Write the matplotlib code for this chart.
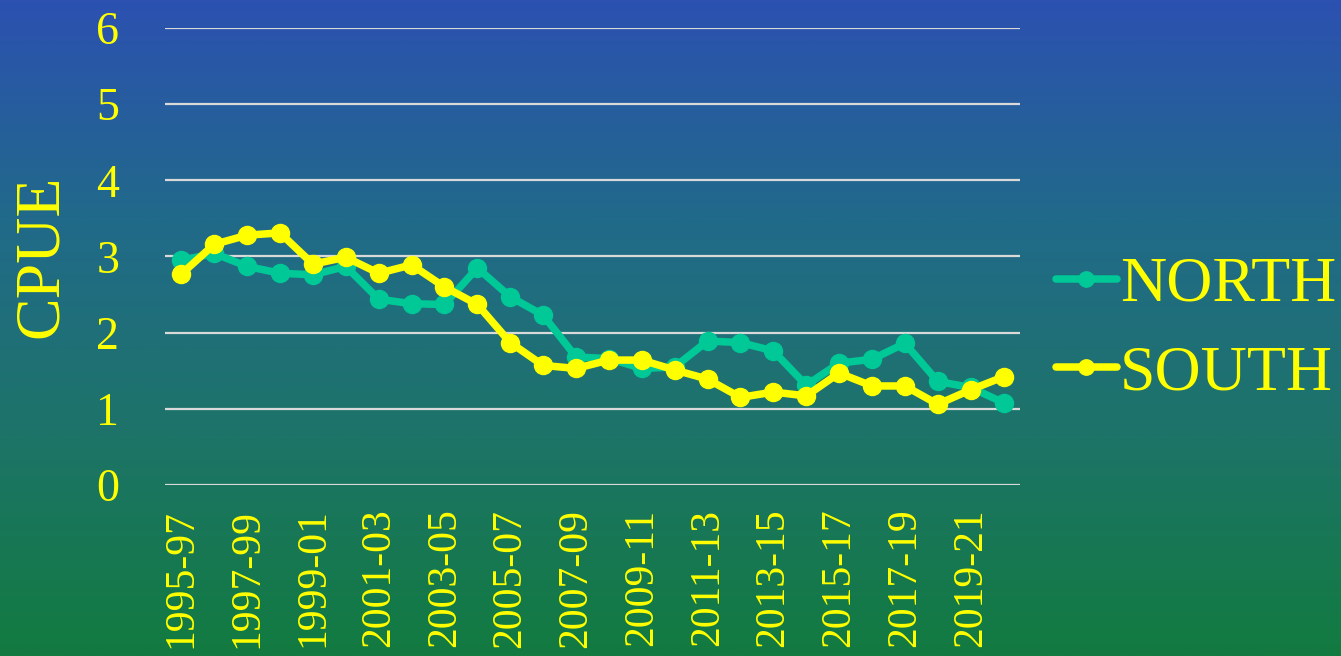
import numpy as np
import matplotlib
matplotlib.use("Agg")
import matplotlib.pyplot as plt
from matplotlib.colors import LinearSegmentedColormap

categories = [f"{y}-{(y + 2) % 100:02d}" for y in range(1995, 2021)]
north = [2.95, 3.04, 2.87, 2.78, 2.76, 2.87, 2.44, 2.38, 2.37, 2.85,
         2.47, 2.23, 1.68, 1.66, 1.53, 1.55, 1.89, 1.87, 1.76, 1.31,
         1.60, 1.65, 1.86, 1.36, 1.28, 1.08]
south = [2.77, 3.16, 3.28, 3.31, 2.90, 2.99, 2.78, 2.89, 2.60, 2.37,
         1.87, 1.57, 1.53, 1.64, 1.64, 1.51, 1.39, 1.15, 1.22, 1.17,
         1.47, 1.30, 1.30, 1.06, 1.25, 1.42]
y_ticks = [0, 1, 2, 3, 4, 5, 6]

plt.rcParams['font.family'] = ['Liberation Serif', 'DejaVu Serif']
YELLOW = '#FFFF00'
TEAL = '#00C896'

fig = plt.figure(figsize=(13.41, 6.56), dpi=100)

# gradient background
bg = fig.add_axes([0, 0, 1, 1], zorder=-10)
cmap = LinearSegmentedColormap.from_list(
    'bg', ['#2C51B1', '#216A8A', '#1D7468', '#127B40'])
grad = np.linspace(0, 1, 512).reshape(-1, 1)
bg.imshow(grad, aspect='auto', cmap=cmap, extent=[0, 1, 0, 1], origin='upper')
bg.set_axis_off()

ax = fig.add_axes([0.1230, 0.2607, 0.6376, 0.6966])
ax.set_facecolor('none')
x = np.arange(len(categories))
ax.plot(x, north, color=TEAL, lw=5.4, marker='o', ms=13, label='NORTH',
        solid_capstyle='round', solid_joinstyle='round', zorder=3)
ax.plot(x, south, color=YELLOW, lw=5.4, marker='o', ms=13, label='SOUTH',
        solid_capstyle='round', solid_joinstyle='round', zorder=4)

ax.set_xlim(-0.5, len(categories) - 0.5)
ax.set_ylim(0, 6)
ax.set_yticks(y_ticks)
ax.set_yticklabels([str(v) for v in y_ticks])
ax.yaxis.grid(True, color='#D9D9D9', lw=1.6)
ax.set_axisbelow(True)
for s in ax.spines.values():
    s.set_visible(False)
ax.set_xticks(x[::2])
ax.set_xticklabels(categories[::2], rotation=90, va='top', ha='center')
ax.tick_params(axis='both', length=0, colors=YELLOW)
ax.tick_params(axis='y', labelsize=33, pad=33)
ax.tick_params(axis='x', labelsize=30, pad=17)
ax.set_ylabel('CPUE', fontsize=46, color=YELLOW, labelpad=18)

leg = fig.legend(*ax.get_legend_handles_labels(), loc='center left',
                 bbox_to_anchor=(1056 / 1341, 0.497),
                 bbox_transform=fig.transFigure, frameon=False,
                 fontsize=46, handlelength=0.95, handletextpad=0.05,
                 labelspacing=0.47, borderpad=0, borderaxespad=0,
                 markerscale=0.85)
for t in leg.get_texts():
    t.set_color(YELLOW)

fig.savefig('out.png', dpi=100)
